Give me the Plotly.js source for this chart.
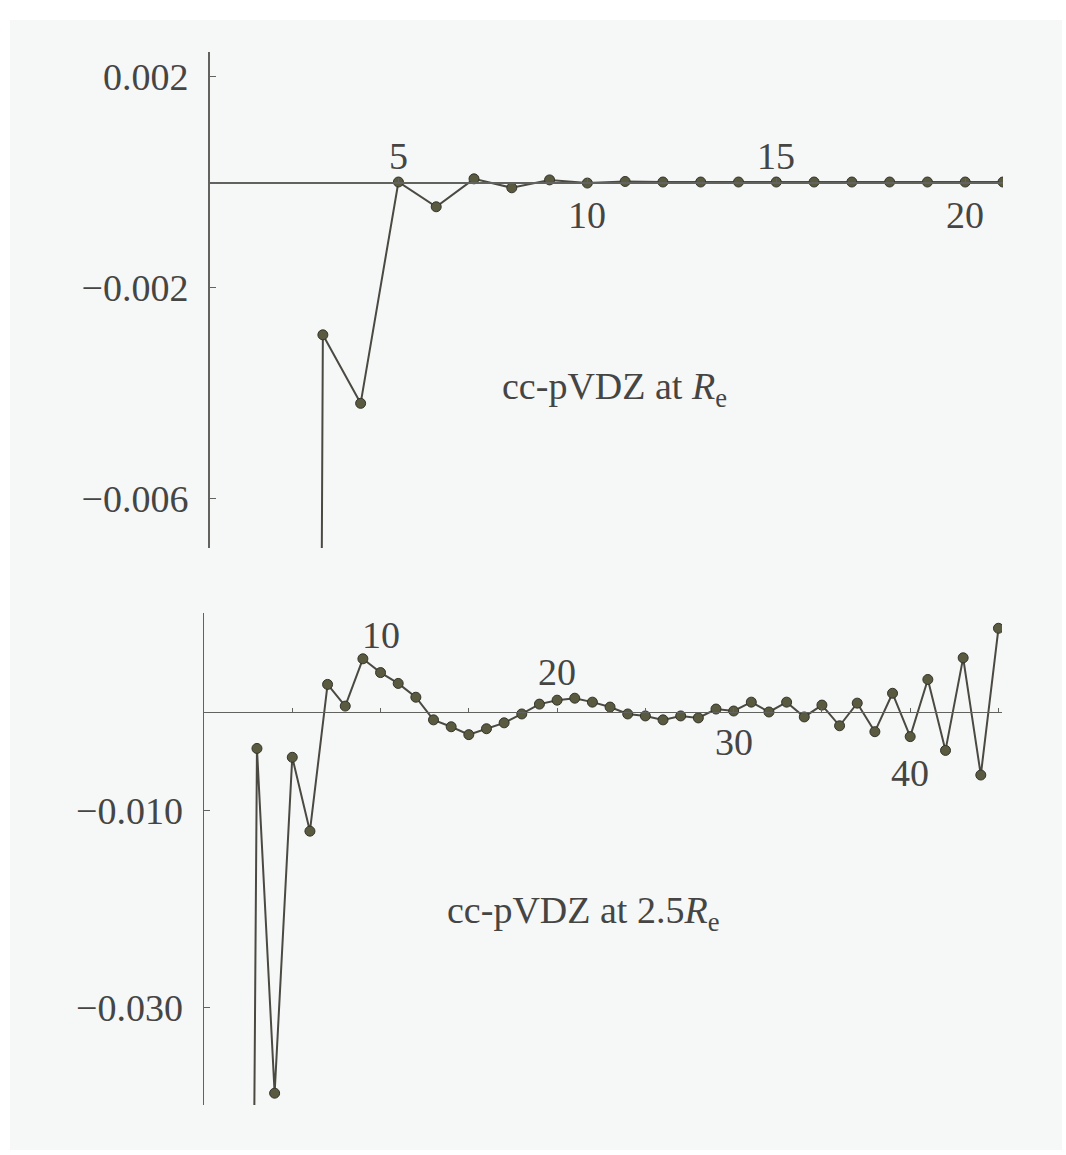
<!DOCTYPE html>
<html>
<head>
<meta charset="utf-8">
<script src="https://cdn.plot.ly/plotly-3.0.1.min.js"></script>
<style>
  html, body { margin: 0; padding: 0; background: #ffffff; }
  #chart { width: 1066px; height: 1155px; }
</style>
</head>
<body>
<div id="chart"></div>
<script>
// ---------- data ----------
// Top panel: cc-pVDZ at Re
const nTop = [2, 3, 4, 5, 6, 7, 8, 9, 10, 11, 12, 13, 14, 15, 16, 17, 18, 19, 20, 21];
const valTop = [-0.15, -0.0029, -0.0042, 0.0, -0.00047, 0.00006, -0.00011, 0.00004, -0.00002, 0.00001,
                0.0, 0.0, 0.0, 0.0, 0.0, 0.0, 0.0, 0.0, 0.0, 0.0];

// Bottom panel: cc-pVDZ at 2.5Re
const nBot = [2, 3, 4, 5, 6, 7, 8, 9, 10, 11, 12, 13, 14, 15, 16, 17, 18, 19, 20, 21, 22, 23,
              24, 25, 26, 27, 28, 29, 30, 31, 32, 33, 34, 35, 36, 37, 38, 39, 40, 41, 42, 43, 44, 45];
const valBot = [-0.25, -0.0037, -0.0387, -0.0046, -0.0121, 0.0028, 0.0006, 0.0054, 0.0040, 0.0029,
                0.0015, -0.0008, -0.0015, -0.0023, -0.0017, -0.0011, -0.0002, 0.0008, 0.0012, 0.0014,
                0.0010, 0.0005, -0.0002, -0.0004, -0.0008, -0.0004, -0.0006, 0.0003, 0.0001, 0.0010,
                0.0000, 0.0010, -0.0005, 0.0007, -0.0014, 0.0009, -0.0020, 0.0019, -0.0025, 0.0033,
                -0.0039, 0.0055, -0.0064, 0.0085];

// tick labels
const yTickTopVals = [0.002, -0.002, -0.006];
const yTickTopText = ["0.002", "\u22120.002", "\u22120.006"];
const yTickBotVals = [-0.010, -0.030];
const yTickBotText = ["\u22120.010", "\u22120.030"];
const xLabTopVals = [5, 10, 15, 20];
const xLabTopText = ["5", "10", "15", "20"];
const xLabBotVals = [10, 20, 30, 40];
const xLabBotText = ["10", "20", "30", "40"];

const labelTop = "cc-pVDZ at <i>R</i><sub>e</sub>";
const labelBot = "cc-pVDZ at 2.5<i>R</i><sub>e</sub>";

// ---------- geometry ----------
const W = 1066, H = 1155;
const topXRange = [0, 21], topYRange = [-0.006945, 0.002467];
const botXRange = [0, 45.2], botYRange = [-0.0399, 0.01005];
const topXDom = [209.5 / W, 1003 / W], topYDom = [1 - 548 / H, 1 - 52 / H];
const botXDom = [204 / W, 1002 / W], botYDom = [1 - 1105 / H, 1 - 613 / H];

function zeroPos(dom, rng) {
  return dom[0] + (0 - rng[0]) / (rng[1] - rng[0]) * (dom[1] - dom[0]);
}

const FONT = "Liberation Serif, Times New Roman, serif";
const TXT = "#454543";
const AX = "#62625e";
const LINE = "#4a4a42";
const MK = "#5a5a40";

const markerStyle = { size: 10, color: MK, line: { color: "#34342a", width: 1 } };

const traces = [
  { x: nTop, y: valTop, xaxis: "x", yaxis: "y", mode: "lines+markers",
    line: { color: LINE, width: 2 }, marker: markerStyle, hoverinfo: "skip" },
  { x: nBot, y: valBot, xaxis: "x2", yaxis: "y2", mode: "lines+markers",
    line: { color: LINE, width: 2 }, marker: markerStyle, hoverinfo: "skip" }
];

function xAxis(dom, rng, pos, dtick) {
  return {
    domain: dom, range: rng, anchor: "free", position: pos,
    showline: true, linecolor: AX, linewidth: 1.5,
    showgrid: false, zeroline: false,
    ticks: "inside", ticklen: 4, tickcolor: AX, tickwidth: 1,
    tick0: 0, dtick: dtick, showticklabels: false
  };
}
function yAxis(dom, rng, anchor, vals, text) {
  return {
    domain: dom, range: rng, anchor: anchor,
    showline: true, linecolor: AX, linewidth: 1.5,
    showgrid: false, zeroline: false,
    ticks: "inside", ticklen: 6, tickcolor: AX, tickwidth: 1,
    tickmode: "array", tickvals: vals, ticktext: text,
    tickfont: { family: FONT, size: 38, color: TXT },
    ticklabelstandoff: 12
  };
}

const topZero = zeroPos(topYDom, topYRange);
const botZero = zeroPos(botYDom, botYRange);

const annotations = [];
// top x tick labels (alternating above/below the axis)
const topShift = [26, -33, 26, -33];
xLabTopVals.forEach((v, i) => {
  annotations.push({ x: v, y: 0, xref: "x", yref: "y", text: xLabTopText[i], showarrow: false,
    yshift: topShift[i], font: { family: FONT, size: 38, color: TXT } });
});
// bottom x tick labels
const botShift = [77, 40, -30, -61];
xLabBotVals.forEach((v, i) => {
  annotations.push({ x: v, y: 0, xref: "x2", yref: "y2", text: xLabBotText[i], showarrow: false,
    yshift: botShift[i], font: { family: FONT, size: 38, color: TXT } });
});
annotations.push({ x: 7.69, y: -0.00392, xref: "x", yref: "y", text: labelTop, showarrow: false,
  xanchor: "left", yanchor: "middle", font: { family: FONT, size: 38, color: TXT } });
annotations.push({ x: 13.65, y: -0.0204, xref: "x2", yref: "y2", text: labelBot, showarrow: false,
  xanchor: "left", yanchor: "middle", font: { family: FONT, size: 38, color: TXT } });

const layout = {
  width: W, height: H,
  margin: { l: 0, r: 0, t: 0, b: 0, pad: 0 },
  paper_bgcolor: "#ffffff",
  plot_bgcolor: "rgba(0,0,0,0)",
  showlegend: false,
  xaxis: xAxis(topXDom, topXRange, topZero, 5),
  yaxis: yAxis(topYDom, topYRange, "x", yTickTopVals, yTickTopText),
  xaxis2: xAxis(botXDom, botXRange, botZero, 5),
  yaxis2: yAxis(botYDom, botYRange, "x2", yTickBotVals, yTickBotText),
  annotations: annotations,
  shapes: [
    { type: "rect", xref: "paper", yref: "paper", x0: 10 / W, x1: 1062 / W, y0: 1 - 1150 / H, y1: 1 - 20 / H,
      fillcolor: "#f6f7f7", line: { width: 0 }, layer: "below" }
  ]
};

Plotly.newPlot("chart", traces, layout, { staticPlot: true, displayModeBar: false });
</script>
</body>
</html>
